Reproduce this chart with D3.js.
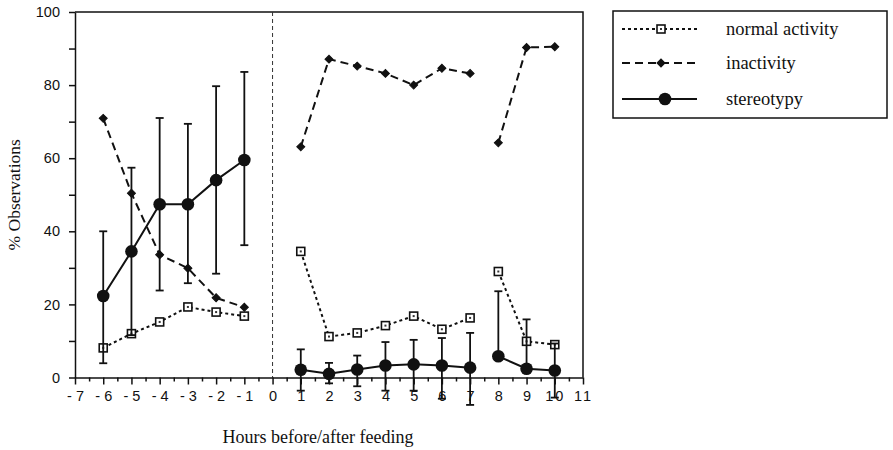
<!DOCTYPE html>
<html>
<head>
<meta charset="utf-8">
<script src="https://cdn.jsdelivr.net/npm/d3@7"></script>
<style>
  body { margin: 0; background: #fff; }
  svg { display: block; }
</style>
</head>
<body>
<svg id="chart" width="893" height="450"></svg>
<script>
// hours relative to feeding, and which drawn segment each point belongs to
const hours = [-6, -5, -4, -3, -2, -1, 1, 2, 3, 4, 5, 6, 7, 8, 9, 10];
const segment = [0, 0, 0, 0, 0, 0, 1, 1, 1, 1, 1, 1, 1, 2, 2, 2];

const normalActivity = [8.1, 12.0, 15.2, 19.3, 17.9, 16.8, 34.5, 11.2, 12.2, 14.2, 16.8, 13.2, 16.3, 29.0, 9.9, 9.0];
const inactivity = [70.9, 50.4, 33.6, 29.9, 21.8, 19.2, 63.1, 87.1, 85.2, 83.2, 80.0, 84.6, 83.2, 64.2, 90.3, 90.5];
const stereotypy = [22.3, 34.5, 47.4, 47.4, 54.0, 59.5, 2.1, 1.0, 2.2, 3.3, 3.6, 3.3, 2.7, 5.8, 2.4, 1.9];
const stereoUpper = [40.0, 57.4, 71.0, 69.4, 79.7, 83.6, 7.7, 4.0, 6.0, 9.7, 10.3, 10.8, 12.2, 23.6, 15.9, 9.3];
const stereoLower = [3.9, 11.6, 23.8, 25.8, 28.4, 36.2, -3.6, -1.6, -2.4, -3.6, -3.6, -5.8, -7.5, null, null, -5.5];

const xTicks = d3.range(-7, 12);
const xTickLabels = ['- 7', '- 6', '- 5', '- 4', '- 3', '- 2', '- 1', '0', '1', '2', '3', '4', '5', '6', '7', '8', '9', '10', '11'];
const yTicks = [0, 10, 20, 30, 40, 50, 60, 70, 80, 90, 100];
const yTickLabels = ['0', '', '20', '', '40', '', '60', '', '80', '', '100'];
const legendLabels = ['normal activity', 'inactivity', 'stereotypy'];

const svg = d3.select('#chart');
const sans = '"Liberation Sans", Arial, sans-serif';
const serif = '"Liberation Serif", "Times New Roman", serif';

const x = d3.scaleLinear().domain([-7, 11]).range([75, 583]);
const y = d3.scaleLinear().domain([0, 100]).range([377.5, 12]);

// frame (top + right)
svg.append('path')
  .attr('d', `M${x(-7)},${y(100)}H${x(11)}V${y(0)}`)
  .attr('fill', 'none').attr('stroke', '#111').attr('stroke-width', 1.5);

// feeding time line
svg.append('line')
  .attr('x1', x(0)).attr('x2', x(0))
  .attr('y1', y(100)).attr('y2', y(0))
  .attr('stroke', '#333').attr('stroke-width', 1)
  .attr('stroke-dasharray', '4,3');

// x axis, with half-hour minor ticks
const xAxis = svg.append('g')
  .attr('transform', `translate(0,${y(0)})`)
  .call(d3.axisBottom(x).tickValues(xTicks).tickSize(7).tickSizeOuter(0)
    .tickFormat((d, i) => xTickLabels[i]));
svg.append('g')
  .attr('transform', `translate(0,${y(0)})`)
  .call(d3.axisBottom(x).tickValues(d3.range(-6.5, 11, 1)).tickSize(4).tickSizeOuter(0).tickFormat(''))
  .select('.domain').remove();

const yAxis = svg.append('g')
  .attr('transform', `translate(${x(-7)},0)`)
  .call(d3.axisLeft(y).tickValues(yTicks).tickSize(6).tickSizeOuter(0)
    .tickFormat((d, i) => yTickLabels[i]));

svg.selectAll('.tick line, .domain').attr('stroke', '#111').attr('stroke-width', 1.5);
xAxis.selectAll('text').attr('font-family', sans).attr('font-size', '14.5px').attr('fill', '#111').attr('dy', '0.9em');
xAxis.selectAll('.tick text').filter(d => d >= 10).attr('letter-spacing', '2px');
yAxis.selectAll('text').attr('font-family', sans).attr('font-size', '14.5px').attr('fill', '#111').attr('x', -15);

svg.append('text')
  .attr('x', 318).attr('y', 443)
  .attr('text-anchor', 'middle')
  .attr('font-family', serif).attr('font-size', '18px').attr('fill', '#111')
  .text('Hours before/after feeding');

svg.append('text')
  .attr('transform', `translate(20,${y(50)}) rotate(-90)`)
  .attr('text-anchor', 'middle')
  .attr('font-family', serif).attr('font-size', '17.5px').attr('fill', '#111')
  .text('% Observations');

// helpers
const points = vals => hours.map((h, i) => ({ h, v: vals[i], s: segment[i] }));
const line = d3.line().x(d => x(d.h)).y(d => y(d.v));

function drawLine(vals, dash) {
  const groups = d3.groups(points(vals), d => d.s);
  svg.append('g').selectAll('path')
    .data(groups)
    .enter()
    .append('path')
    .attr('d', d => line(d[1]))
    .attr('fill', 'none').attr('stroke', '#111').attr('stroke-width', 2)
    .attr('stroke-dasharray', dash);
}

function squareMarker(g, cx, cy) {
  g.append('rect').attr('x', cx - 4).attr('y', cy - 4).attr('width', 8).attr('height', 8)
    .attr('fill', '#fff').attr('stroke', '#111').attr('stroke-width', 1.6);
  g.append('rect').attr('x', cx - 1).attr('y', cy - 1).attr('width', 2).attr('height', 2)
    .attr('fill', '#333');
}
function diamondMarker(g, cx, cy) {
  g.append('path')
    .attr('d', d3.symbol().type(d3.symbolSquare).size(32)())
    .attr('transform', `translate(${cx},${cy}) rotate(45)`)
    .attr('fill', '#111').attr('stroke', '#111').attr('stroke-width', 1);
}
function circleMarker(g, cx, cy) {
  g.append('circle').attr('cx', cx).attr('cy', cy).attr('r', 6.3).attr('fill', '#111');
}

// normal activity
drawLine(normalActivity, '3,3');
const gNormal = svg.append('g');
points(normalActivity).forEach(d => squareMarker(gNormal, x(d.h), y(d.v)));

// inactivity
drawLine(inactivity, '8,5');
const gInact = svg.append('g');
points(inactivity).forEach(d => diamondMarker(gInact, x(d.h), y(d.v)));

// stereotypy error bars
const gErr = svg.append('g').attr('stroke', '#111').attr('stroke-width', 1.8);
hours.forEach((h, i) => {
  const cx = x(h);
  const lo = stereoLower[i] == null ? stereotypy[i] : stereoLower[i];
  gErr.append('line').attr('x1', cx).attr('x2', cx).attr('y1', y(stereoUpper[i])).attr('y2', y(lo));
  gErr.append('line').attr('x1', cx - 4).attr('x2', cx + 4).attr('y1', y(stereoUpper[i])).attr('y2', y(stereoUpper[i]));
  if (stereoLower[i] != null) {
    gErr.append('line').attr('x1', cx - 4).attr('x2', cx + 4).attr('y1', y(lo)).attr('y2', y(lo));
  }
});

// stereotypy
drawLine(stereotypy, null);
const gStereo = svg.append('g');
points(stereotypy).forEach(d => circleMarker(gStereo, x(d.h), y(d.v)));

// legend
const legend = svg.append('g');
legend.append('rect')
  .attr('x', 613).attr('y', 11).attr('width', 274).attr('height', 107)
  .attr('fill', '#fff').attr('stroke', '#111').attr('stroke-width', 1.5);

const rowY = [29, 63, 99];
const dashes = ['3,3', '8,5', null];
const markers = [squareMarker, diamondMarker, circleMarker];
legendLabels.forEach((lab, i) => {
  legend.append('line')
    .attr('x1', 622).attr('x2', 697).attr('y1', rowY[i]).attr('y2', rowY[i])
    .attr('stroke', '#111').attr('stroke-width', 2).attr('stroke-dasharray', dashes[i]);
  markers[i](legend, i === 2 ? 665 : 661, rowY[i]);
  legend.append('text')
    .attr('x', 726).attr('y', rowY[i]).attr('dy', '0.3em')
    .attr('font-family', serif).attr('font-size', '18.5px').attr('fill', '#111')
    .text(lab);
});
</script>
</body>
</html>
